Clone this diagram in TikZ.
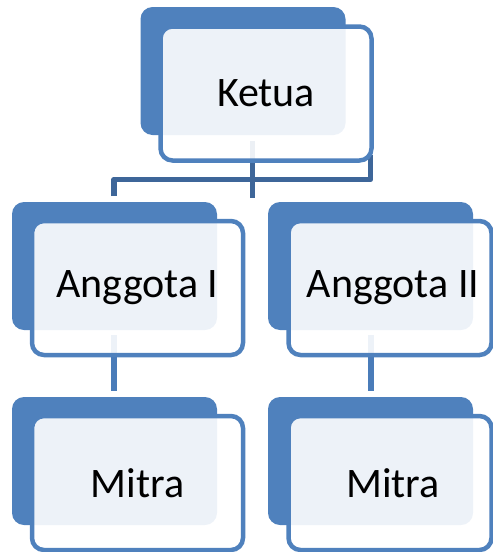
\documentclass[tikz,border=0pt]{standalone}
\usepackage{fontspec}
\setmainfont{Carlito}
\definecolor{boxblue}{HTML}{4F81BD}
\definecolor{conndark}{HTML}{3E6699}
\definecolor{connlight}{HTML}{4A7CB9}
\begin{document}
\begin{tikzpicture}[x=1pt,y=-1pt,
  backbox/.style={draw=none,fill=boxblue,rounded corners=12pt,minimum width=205pt,minimum height=128pt,inner sep=0pt},
  frontbox/.style={draw=boxblue,line width=4.5pt,fill=white,fill opacity=0.9,text opacity=1,rounded corners=12pt,minimum width=211pt,minimum height=134pt,inner sep=0pt,font=\fontsize{42}{50}\selectfont},
  conn/.style={line width=5.6pt}]
\useasboundingbox (0,0) rectangle (493,552);
% back boxes
\node[backbox] (kB) at (243,71) {};
\node[backbox] (a1B) at (114.5,266) {};
\node[backbox] (a2B) at (370.5,266) {};
\node[backbox] (m1B) at (114.5,461) {};
\node[backbox] (m2B) at (370.5,461) {};
% connector points
\coordinate (c0) at (252.3,141);
\coordinate (c1) at (252.3,198);
\coordinate (h1) at (114,196);
\coordinate (h2) at (114,179.5);
\coordinate (h3) at (370.5,179.5);
\coordinate (h4) at (370.5,155);
\coordinate (a1s) at (114,335);
\coordinate (m1n) at (114,391);
\coordinate (a2s) at (371,335);
\coordinate (m2n) at (371,391);
\draw[conn,conndark] (c0) -- (c1);
\draw[conn,conndark,line join=round] (h1) -- (h2) -- (h3) -- (h4);
\draw[conn,connlight] (a1s) -- (m1n);
\draw[conn,connlight] (a2s) -- (m2n);
% front boxes
\node[frontbox] (k) at (266,93.5) {Ketua};
\node[frontbox] (a1) at (137.5,288) {Anggota I};
\node[frontbox,minimum width=203pt] (a2) at (390,288) {\hspace*{6pt}Anggota II};
\node[frontbox] (m1) at (137.5,483) {Mitra};
\node[frontbox,minimum width=203pt] (m2) at (390,483) {\hspace*{6pt}Mitra};
\end{tikzpicture}
\end{document}
